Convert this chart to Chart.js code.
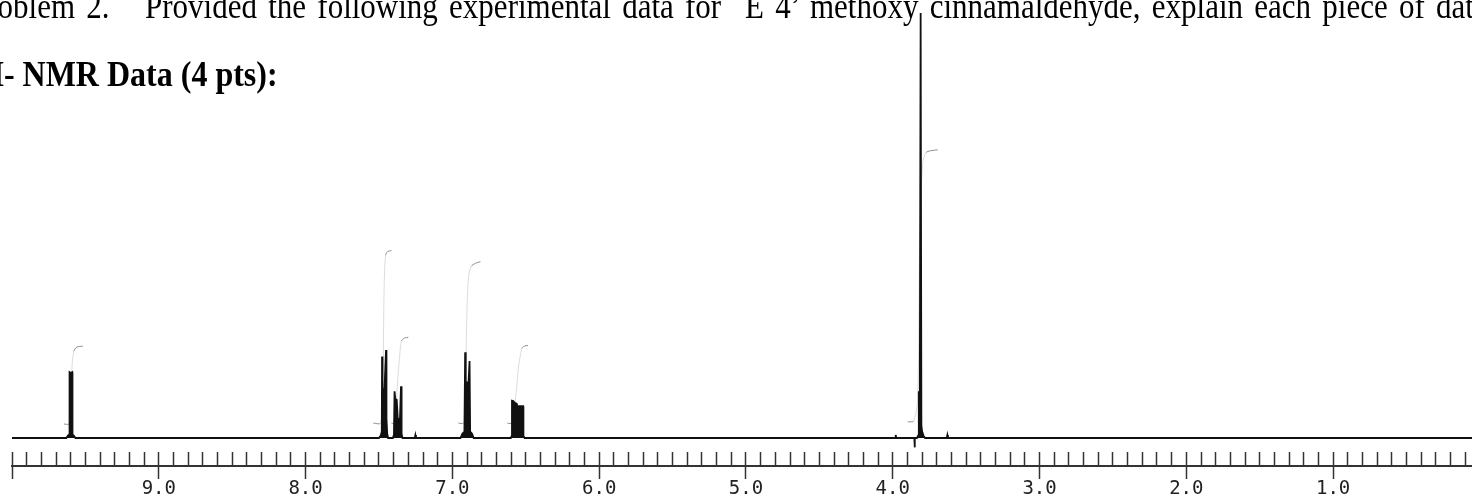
<!DOCTYPE html>
<html><head><meta charset="utf-8">
<script src="https://cdn.jsdelivr.net/npm/chart.js@4.4.0/dist/chart.umd.min.js"></script>
<style>
html,body{margin:0;padding:0;background:#fff;overflow:hidden;width:1472px;height:501px;}
#wrap{position:absolute;left:0;top:0;width:1472px;height:501px;}
.t{position:absolute;white-space:pre;font-family:"Liberation Serif","Times New Roman",serif;font-size:31px;line-height:31px;color:#000;word-spacing:3.5px;transform:scaleY(1.15);transform-origin:0 28px;}
.b{font-weight:bold;font-size:32px;line-height:32px;word-spacing:0;transform:scaleY(1.12);}
</style></head><body>
<div id="wrap"><canvas id="c" width="1472" height="501"></canvas></div>
<div class="t" style="left:-30px;top:-8px">Problem 2.</div>
<div class="t" style="left:145px;top:-8px">Provided the following experimental data for</div>
<div class="t" style="left:745px;top:-8px">E 4’ methoxy cinnamaldehyde, explain each piece of data</div>
<div class="t b" style="left:-34px;top:50px;font-size:20px;line-height:20px">1</div>
<div class="t b" style="left:-21px;top:59px">H- NMR Data (4 pts):</div>
<script>
// spectrum trace: chemical shift (ppm) and relative intensity
const spectrumPpm = [10.0,
  9.630, 9.618, 9.610, 9.608, 9.599, 9.590, 9.588, 9.580, 9.568,
  7.500, 7.488, 7.481, 7.479, 7.476, 7.470, 7.463, 7.452, 7.449, 7.444, 7.438,
  7.405, 7.398, 7.394, 7.389, 7.379, 7.372, 7.357, 7.350, 7.346, 7.340,
  7.256, 7.252, 7.248,
  6.945, 6.932, 6.918, 6.913, 6.909, 6.890, 6.883, 6.879, 6.866, 6.855,
  6.602, 6.596, 6.594, 6.585, 6.575, 6.563, 6.560, 6.518, 6.516, 6.508,
  3.984, 3.980, 3.976,
  3.853, 3.851, 3.849,
  3.835, 3.826, 3.823, 3.822, 3.818, 3.816, 3.810, 3.805, 3.800, 3.790, 3.780,
  3.632, 3.628, 3.624,
  0.0];
const spectrumIntensity = [0,
  0, 0.6, 0.8, 15.5, 15.3, 15.5, 0.8, 0.6, 0,
  0, 0.6, 1.5, 19.2, 11.5, 11.5, 11.0, 20.7, 4.5, 1.0, 0,
  0, 0.8, 11.0, 9.2, 9.0, 4.5, 4.5, 12.2, 1.0, 0,
  0, 0.7, 0,
  0, 1.0, 1.5, 20.2, 13.1, 13.1, 18.1, 1.5, 1.0, 0,
  0, 0.5, 8.8, 8.7, 8.3, 8.1, 7.5, 7.5, 0.5, 0,
  0, 0.7, 0,
  0, -2.2, 0,
  0, 0.6, 3.0, 11.0, 7.8, 4.5, 100, 3.0, 1.5, 0.5, 0,
  0, 0.7, 0,
  0];
// integral traces (ppm, level)
const int1Ppm = [9.647, 9.613, 9.599, 9.592, 9.579, 9.558, 9.517];
const int1Level = [3.3, 3.3, 5.6, 16.2, 20.4, 21.4, 21.6];
const int2Ppm = [7.538, 7.490, 7.475, 7.465, 7.455, 7.440, 7.415];
const int2Level = [3.5, 3.5, 9.4, 35.2, 43.0, 43.9, 44.1];
const int3Ppm = [7.415, 7.395, 7.381, 7.374, 7.361, 7.347, 7.327, 7.300];
const int3Level = [3.5, 3.5, 9.2, 12.9, 18.5, 22.8, 23.5, 23.7];
const int4Ppm = [6.959, 6.925, 6.912, 6.905, 6.891, 6.871, 6.843, 6.809];
const int4Level = [3.5, 3.5, 5.6, 23.5, 37.6, 40.4, 41.1, 41.5];
const int5Ppm = [6.626, 6.592, 6.578, 6.560, 6.549, 6.526, 6.510, 6.485];
const int5Level = [3.5, 3.5, 7.0, 12.7, 16.9, 21.1, 21.6, 21.8];
const int6Ppm = [3.898, 3.857, 3.830, 3.816, 3.796, 3.775, 3.741, 3.694];
const int6Level = [3.8, 4.0, 9.4, 46.9, 64.6, 67.1, 67.6, 67.8];
// axis
const majorTicks = [10, 9, 8, 7, 6, 5, 4, 3, 2, 1];
const majorTickLabels = ['', '9.0', '8.0', '7.0', '6.0', '5.0', '4.0', '3.0', '2.0', '1.0'];
const minorStep = 0.1;
const xMax = 10, xMin = 0.054, yMin = -3.29, yMax = 100;

const minorTicks = [];
for (let i = Math.round(xMax / minorStep); i >= 1; i--) minorTicks.push(+(i * minorStep).toFixed(2));

const toPts = (xs, ys) => xs.map((x, i) => ({x, y: ys[i]}));
const integrals = [[int1Ppm, int1Level], [int2Ppm, int2Level], [int3Ppm, int3Level],
                   [int4Ppm, int4Level], [int5Ppm, int5Level], [int6Ppm, int6Level]];

const intSeg = {
  borderColor: ctx => {
    const dx = Math.abs(ctx.p1.x - ctx.p0.x), dy = Math.abs(ctx.p1.y - ctx.p0.y);
    return dy > 2.5 * dx ? '#dcdcdc' : '#8c8c8c';
  }
};

const datasets = [{
  data: toPts(spectrumPpm, spectrumIntensity), borderColor: '#111', borderWidth: 1.8,
  pointRadius: 0, tension: 0, fill: 'origin', backgroundColor: '#111'
}];
integrals.forEach(([xs, ys]) => datasets.push({
  data: toPts(xs, ys), borderColor: '#8c8c8c', borderWidth: 1, pointRadius: 0, tension: 0.3,
  fill: false, segment: intSeg
}));

new Chart(document.getElementById('c'), {
  type: 'line',
  data: {datasets},
  options: {
    responsive: false, animation: false, devicePixelRatio: 1,
    layout: {padding: {left: 12, right: 0, top: 13, bottom: 1}},
    plugins: {legend: {display: false}, tooltip: {enabled: false}},
    scales: {
      x: {
        type: 'linear', position: 'bottom', reverse: true, min: xMin, max: xMax, weight: 0,
        afterBuildTicks: s => { s.ticks = minorTicks.map(v => ({value: v})); },
        ticks: {display: false},
        border: {display: false},
        grid: {drawOnChartArea: false, drawTicks: true, tickLength: 14, tickColor: '#333', tickWidth: 1.5}
      },
      x2: {
        type: 'linear', position: 'bottom', reverse: true, min: xMin, max: xMax, weight: 1,
        afterBuildTicks: s => { s.ticks = majorTicks.map(v => ({value: v})); },
        ticks: {display: true, autoSkip: false, maxRotation: 0, padding: 1, color: '#222',
          font: {family: '"DejaVu Sans Mono", monospace', size: 19, lineHeight: 1},
          callback: (v, i) => majorTickLabels[i]},
        border: {display: true, color: '#333', width: 2},
        grid: {drawOnChartArea: false, drawTicks: true, tickLength: 13, tickColor: '#333', tickWidth: 1.5}
      },
      y: {display: false, min: yMin, max: yMax}
    }
  }
});
</script>
</body></html>
